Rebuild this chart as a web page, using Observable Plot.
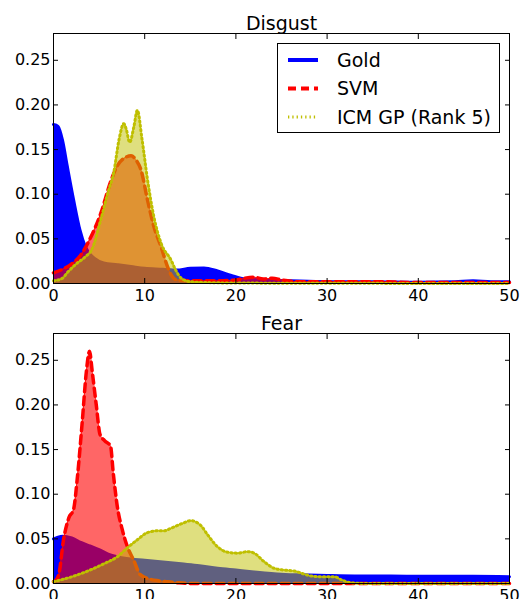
<!DOCTYPE html>
<html><head><meta charset="utf-8">
<script src="https://cdn.jsdelivr.net/npm/d3@7"></script>
<script src="https://cdn.jsdelivr.net/npm/@observablehq/plot@0.6"></script>
<style>
html,body{margin:0;padding:0;background:#fff;}
body{width:521px;height:599px;overflow:hidden;font-family:"DejaVu Sans",sans-serif;}
#wrap{position:relative;width:521px;}
#wrap svg{display:block;}
#legend{position:absolute;left:0;top:0;}
</style></head><body><div id="wrap"></div>
<script>
// ---- tick labels / categories ----
const xTicks = [0, 10, 20, 30, 40, 50];
const yTicks = [0, 0.05, 0.10, 0.15, 0.20, 0.25];
const panelTitles = ["Disgust", "Fear"];
const seriesNames = ["Gold", "SVM", "ICM GP (Rank 5)"];

// ---- Disgust ----
const disgustGoldX = [0, 0.5, 1, 1.5, 2.2, 2.9, 3.5, 4.5, 5.5, 7, 8.5, 10, 12, 13.5, 15, 16.5, 18, 19.5, 21, 23, 26, 30, 35, 40, 44, 46, 48, 50];
const disgustGoldY = [0.178, 0.176, 0.160, 0.132, 0.094, 0.060, 0.041, 0.028, 0.023, 0.021, 0.019, 0.017, 0.016, 0.015, 0.017, 0.0175, 0.014, 0.009, 0.005, 0.004, 0.003, 0.002, 0.002, 0.0015, 0.002, 0.003, 0.002, 0.002];
const disgustSvmX = [0, 1, 2, 3, 4, 5.2, 6.3, 7.0, 7.7, 8.5, 9.0, 9.6, 10.3, 11, 11.8, 12.5, 13, 13.5, 15, 18, 20, 21, 22, 23, 24, 25, 27, 30, 36, 40, 50];
const disgustSvmY = [0.012, 0.016, 0.022, 0.032, 0.050, 0.079, 0.115, 0.132, 0.140, 0.143, 0.139, 0.127, 0.094, 0.064, 0.041, 0.019, 0.008, 0.004, 0.003, 0.003, 0.004, 0.006, 0.007, 0.005, 0.006, 0.004, 0.002, 0.002, 0.002, 0.001, 0.001];
const disgustIcmX = [0, 1, 1.5, 2.5, 3.5, 4.2, 5.2, 6.0, 6.6, 7.2, 7.7, 8.0, 8.35, 8.8, 9.2, 9.7, 10.3, 11, 11.8, 12.9, 13.4, 14, 15, 17, 20, 50];
const disgustIcmY = [0.003, 0.006, 0.012, 0.022, 0.030, 0.038, 0.072, 0.103, 0.124, 0.162, 0.179, 0.172, 0.158, 0.175, 0.194, 0.162, 0.117, 0.075, 0.045, 0.026, 0.015, 0.006, 0.002, 0.001, 0.0005, 0];

// ---- Fear ----
const fearGoldX = [0, 0.5, 1, 2, 3, 4, 5, 6, 7, 8, 10, 12, 14, 16, 18, 20, 22, 25, 28, 30, 33, 37, 42, 46, 50];
const fearGoldY = [0.050, 0.052, 0.053, 0.051, 0.046, 0.042, 0.038, 0.033, 0.030, 0.028, 0.026, 0.024, 0.022, 0.020, 0.017, 0.015, 0.013, 0.0105, 0.0095, 0.009, 0.0085, 0.0085, 0.008, 0.008, 0.0075];
const fearSvmX = [0, 0.3, 0.6, 1.1, 1.7, 2.2, 2.6, 3.15, 3.6, 3.95, 4.25, 4.7, 5.1, 5.6, 6.25, 6.55, 7.0, 7.55, 8.15, 8.8, 9.5, 10.5, 11.5, 12.5, 13.5, 15, 50];
const fearSvmY = [0.002, 0.004, 0.011, 0.049, 0.074, 0.083, 0.117, 0.181, 0.237, 0.260, 0.237, 0.199, 0.167, 0.160, 0.154, 0.124, 0.086, 0.060, 0.040, 0.026, 0.010, 0.005, 0.003, 0.002, 0.001, 0, 0];
const fearIcmX = [0, 2, 4, 5.5, 7, 8.1, 9.2, 10.3, 11.4, 12.1, 12.9, 13.6, 14.3, 15.05, 15.6, 16.15, 16.9, 18, 19.1, 20.2, 21.3, 22.0, 23.1, 24.2, 25.3, 26.4, 27.5, 28.2, 29.5, 30.8, 31.6, 32.5, 34, 50];
const fearIcmY = [0.002, 0.0075, 0.015, 0.022, 0.030, 0.040, 0.049, 0.057, 0.059, 0.059, 0.062, 0.065, 0.068, 0.0705, 0.069, 0.065, 0.0545, 0.041, 0.035, 0.034, 0.0357, 0.034, 0.0244, 0.017, 0.015, 0.0139, 0.0105, 0.0085, 0.0075, 0.0075, 0.004, 0.001, 0, 0];

const colors = {gold: "#0000ff", svm: "#ff0000", icm: "#bfbf00"};
const zip = (xs, ys) => xs.map((x, i) => ({x, y: ys[i]}));
const curve = "monotone-x";
const blank = () => "";

function panel(title, gold, svm, icm) {
  return Plot.plot({
    width: 521, height: 300,
    marginLeft: 53, marginRight: 12, marginTop: 33, marginBottom: 17,
    style: {fontFamily: "DejaVu Sans, sans-serif", fontSize: "16px", color: "#000", background: "#fff", overflow: "visible"},
    x: {domain: [0, 50]},
    y: {domain: [0, 0.28]},
    marks: [
      Plot.areaY(gold, {x: "x", y: "y", fill: colors.gold, curve}),
      Plot.lineY(gold, {x: "x", y: "y", stroke: colors.gold, strokeWidth: 3, curve}),
      Plot.areaY(svm, {x: "x", y: "y", fill: colors.svm, fillOpacity: 0.6, curve}),
      Plot.lineY(svm, {x: "x", y: "y", stroke: colors.svm, strokeWidth: 0.8, curve}),
      Plot.lineY(svm, {x: "x", y: "y", stroke: colors.svm, strokeWidth: 3.5, strokeDasharray: "8,5", curve}),
      Plot.areaY(icm, {x: "x", y: "y", fill: colors.icm, fillOpacity: 0.5, curve}),
      Plot.lineY(icm, {x: "x", y: "y", stroke: colors.icm, strokeWidth: 0.8, curve}),
      Plot.lineY(icm, {x: "x", y: "y", stroke: colors.icm, strokeWidth: 3, strokeDasharray: "1.3,3", curve}),
      // tick labels
      Plot.axisX(xTicks, {anchor: "bottom", tickSize: 0, tickPadding: 6, label: null, fill: "#000"}),
      Plot.axisY(yTicks, {anchor: "left", tickSize: 0, tickPadding: 3, tickFormat: d3.format(".2f"), label: null, fill: "#000"}),
      // inward ticks on all four sides (matplotlib style)
      Plot.axisX(xTicks, {anchor: "bottom", tickSize: 5, dy: -5, tickFormat: blank, label: null, stroke: "#000"}),
      Plot.axisX(xTicks, {anchor: "top", tickSize: 5, dy: 5, tickFormat: blank, label: null, stroke: "#000"}),
      Plot.axisY(yTicks, {anchor: "left", tickSize: 5, dx: 5, tickFormat: blank, label: null, stroke: "#000"}),
      Plot.axisY(yTicks, {anchor: "right", tickSize: 5, dx: -5, tickFormat: blank, label: null, stroke: "#000"}),
      Plot.frame({stroke: "#000", strokeWidth: 1}),
      Plot.text([title], {frameAnchor: "top", lineAnchor: "bottom", dy: -4, fontSize: 19, fill: "#000"})
    ]
  });
}

const wrap = document.getElementById("wrap");
wrap.appendChild(panel(panelTitles[0], zip(disgustGoldX, disgustGoldY), zip(disgustSvmX, disgustSvmY), zip(disgustIcmX, disgustIcmY)));
wrap.appendChild(panel(panelTitles[1], zip(fearGoldX, fearGoldY), zip(fearSvmX, fearSvmY), zip(fearIcmX, fearIcmY)));

// ---- legend (inside top panel, upper right) ----
const leg = d3.select(wrap).append("svg").attr("id", "legend").attr("width", 521).attr("height", 150)
  .style("font-family", "DejaVu Sans, sans-serif").style("font-size", "19px");
leg.append("rect").attr("x", 277.5).attr("y", 43.5).attr("width", 222).attr("height", 89)
  .attr("fill", "#fff").attr("stroke", "#000").attr("stroke-width", 1);
const legStyles = [
  {stroke: colors.gold, width: 4, dash: null},
  {stroke: colors.svm, width: 4, dash: "8,5"},
  {stroke: colors.icm, width: 3, dash: "1.3,3"}
];
seriesNames.forEach((name, i) => {
  const y = 60 + i * 28.5;
  const s = legStyles[i];
  leg.append("line").attr("x1", 288).attr("x2", 318).attr("y1", y).attr("y2", y)
    .attr("stroke", s.stroke).attr("stroke-width", s.width).attr("stroke-dasharray", s.dash);
  leg.append("text").attr("x", 337).attr("y", y).attr("dy", "0.35em").attr("fill", "#000").text(name);
});
</script></body></html>
